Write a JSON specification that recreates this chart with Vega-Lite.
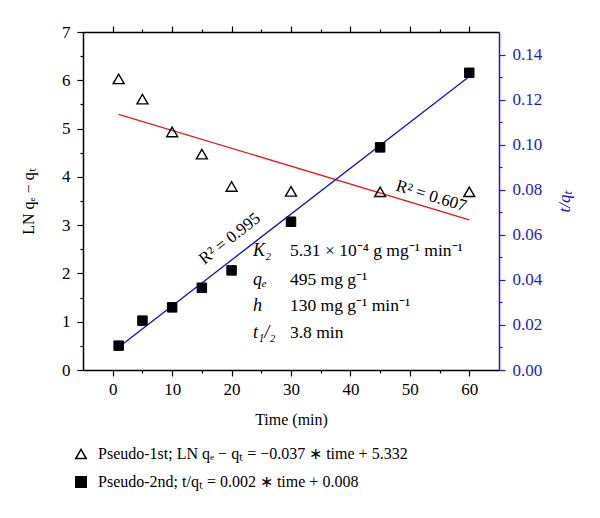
{
  "$schema": "https://vega.github.io/schema/vega-lite/v6.json",
  "width": 416,
  "height": 338,
  "autosize": {"type": "none"},
  "padding": {"left": 83, "top": 32, "right": 101, "bottom": 148},
  "background": "white",
  "config": {
    "font": "Liberation Serif",
    "view": {"stroke": null},
    "axis": {
      "labelFont": "Liberation Serif",
      "titleFont": "Liberation Serif",
      "labelFontSize": 17,
      "titleFontSize": 16,
      "titleFontWeight": "normal",
      "grid": false,
      "domainColor": "black",
      "domainWidth": 1.5,
      "tickColor": "black",
      "tickWidth": 1.2,
      "labelColor": "black",
      "titleColor": "black"
    },
    "legend": {
      "labelFont": "Liberation Serif",
      "labelFontSize": 16,
      "labelColor": "black",
      "labelLimit": 600
    }
  },
  "datasets": {
    "pts": [
      {"time": 1, "v": 6.03, "series": "Pseudo-1st; LN qₑ − qₜ = −0.037 ∗ time + 5.332"},
      {"time": 5, "v": 5.61, "series": "Pseudo-1st; LN qₑ − qₜ = −0.037 ∗ time + 5.332"},
      {"time": 10, "v": 4.93, "series": "Pseudo-1st; LN qₑ − qₜ = −0.037 ∗ time + 5.332"},
      {"time": 15, "v": 4.47, "series": "Pseudo-1st; LN qₑ − qₜ = −0.037 ∗ time + 5.332"},
      {"time": 20, "v": 3.8, "series": "Pseudo-1st; LN qₑ − qₜ = −0.037 ∗ time + 5.332"},
      {"time": 30, "v": 3.7, "series": "Pseudo-1st; LN qₑ − qₜ = −0.037 ∗ time + 5.332"},
      {"time": 45, "v": 3.69, "series": "Pseudo-1st; LN qₑ − qₜ = −0.037 ∗ time + 5.332"},
      {"time": 60, "v": 3.69, "series": "Pseudo-1st; LN qₑ − qₜ = −0.037 ∗ time + 5.332"},
      {"time": 1, "v": 0.0108, "series": "Pseudo-2nd; t/qₜ = 0.002 ∗ time + 0.008"},
      {"time": 5, "v": 0.0219, "series": "Pseudo-2nd; t/qₜ = 0.002 ∗ time + 0.008"},
      {"time": 10, "v": 0.0278, "series": "Pseudo-2nd; t/qₜ = 0.002 ∗ time + 0.008"},
      {"time": 15, "v": 0.0365, "series": "Pseudo-2nd; t/qₜ = 0.002 ∗ time + 0.008"},
      {"time": 20, "v": 0.0442, "series": "Pseudo-2nd; t/qₜ = 0.002 ∗ time + 0.008"},
      {"time": 30, "v": 0.0658, "series": "Pseudo-2nd; t/qₜ = 0.002 ∗ time + 0.008"},
      {"time": 45, "v": 0.0988, "series": "Pseudo-2nd; t/qₜ = 0.002 ∗ time + 0.008"},
      {"time": 60, "v": 0.1319, "series": "Pseudo-2nd; t/qₜ = 0.002 ∗ time + 0.008"}
    ],
    "fits": [
      {"time": 1, "v": 5.295, "fit": "first"},
      {"time": 60, "v": 3.11, "fit": "first"},
      {"time": 1, "v": 0.0101, "fit": "second"},
      {"time": 60, "v": 0.1303, "fit": "second"}
    ],
    "params": [
      {"time": 23.6, "v": 2.47, "sym": "K₂", "val": "5.31 × 10⁻⁴ g mg⁻¹ min⁻¹"},
      {"time": 23.6, "v": 1.86, "sym": "qₑ", "val": "495 mg g⁻¹"},
      {"time": 23.6, "v": 1.32, "sym": "h", "val": "130 mg g⁻¹ min⁻¹"},
      {"time": 23.6, "v": 0.77, "sym": "t₁/₂", "val": "3.8 min"}
    ],
    "r2a": [{"time": 19.7, "v": 2.72, "text": "R² = 0.995"}],
    "r2b": [{"time": 53.6, "v": 3.6, "text": "R² = 0.607"}]
  },
  "resolve": {"scale": {"y": "independent"}, "axis": {"x": "independent"}},
  "layer": [
    {
      "encoding": {
        "x": {
          "field": "time",
          "type": "quantitative",
          "scale": {"domain": [-5, 65], "nice": false, "zero": false},
          "axis": {
            "orient": "bottom",
            "title": "Time (min)",
            "values": [0, 5, 10, 15, 20, 25, 30, 35, 40, 45, 50, 55, 60],
            "labelExpr": "datum.value % 10 === 0 ? format(datum.value, 'd') : ''",
            "tickSize": {"condition": {"test": "datum.value % 10 === 0", "value": 6}, "value": 3},
            "labelPadding": 5,
            "titlePadding": 14
          }
        },
        "y": {
          "field": "v",
          "type": "quantitative",
          "scale": {"domain": [0, 7], "nice": false},
          "axis": {
            "orient": "left",
            "title": "LN qₑ − qₜ",
            "values": [0, 0.5, 1, 1.5, 2, 2.5, 3, 3.5, 4, 4.5, 5, 5.5, 6, 6.5, 7],
            "labelExpr": "datum.value % 1 === 0 ? format(datum.value, 'd') : ''",
            "tickSize": {"condition": {"test": "datum.value % 1 === 0", "value": 6}, "value": 3},
            "labelPadding": 7,
            "titlePadding": 25
          }
        }
      },
      "layer": [
        {
          "data": {"name": "fits"},
          "transform": [{"filter": "datum.fit === 'first'"}],
          "mark": {"type": "line", "color": "#e8191b", "strokeWidth": 1.3}
        },
        {
          "data": {"name": "pts"},
          "transform": [{"filter": "indexof(datum.series, 'Pseudo-1st') === 0"}],
          "mark": {"type": "point", "filled": true, "stroke": "black", "strokeWidth": 1.4, "size": 120, "opacity": 1},
          "encoding": {
            "shape": {
              "field": "series",
              "type": "nominal",
              "scale": {
                "domain": ["Pseudo-1st; LN qₑ − qₜ = −0.037 ∗ time + 5.332", "Pseudo-2nd; t/qₜ = 0.002 ∗ time + 0.008"],
                "range": ["triangle-up", "square"]
              },
              "legend": {
                "title": null,
                "orient": "none",
                "legendX": -10,
                "legendY": 414,
                "rowPadding": 11,
                "labelOffset": 9,
                "symbolSize": 110,
                "encode": {"symbols": {"update": {"stroke": {"value": "black"}, "strokeWidth": {"value": 1.4}}}}
              }
            },
            "fill": {
              "field": "series",
              "type": "nominal",
              "scale": {
                "domain": ["Pseudo-1st; LN qₑ − qₜ = −0.037 ∗ time + 5.332", "Pseudo-2nd; t/qₜ = 0.002 ∗ time + 0.008"],
                "range": ["transparent", "black"]
              },
              "legend": {
                "title": null,
                "orient": "none",
                "legendX": -10,
                "legendY": 414,
                "rowPadding": 11,
                "labelOffset": 9,
                "symbolSize": 110,
                "encode": {"symbols": {"update": {"stroke": {"value": "black"}, "strokeWidth": {"value": 1.4}}}}
              }
            }
          }
        },
        {
          "data": {"name": "r2a"},
          "mark": {"type": "text", "angle": 322, "fontSize": 17, "font": "Liberation Serif", "color": "black"},
          "encoding": {"text": {"field": "text"}}
        },
        {
          "data": {"name": "r2b"},
          "mark": {"type": "text", "angle": 17, "fontSize": 17, "font": "Liberation Serif", "color": "black"},
          "encoding": {"text": {"field": "text"}}
        },
        {
          "data": {"name": "params"},
          "mark": {"type": "text", "align": "left", "baseline": "middle", "fontSize": 18, "fontStyle": "italic", "font": "Liberation Serif", "color": "black"},
          "encoding": {"text": {"field": "sym"}}
        },
        {
          "data": {"name": "params"},
          "mark": {"type": "text", "align": "left", "baseline": "middle", "fontSize": 17.5, "font": "Liberation Serif", "color": "black", "dx": 37},
          "encoding": {"text": {"field": "val"}}
        }
      ]
    },
    {
      "encoding": {
        "x": {
          "field": "time",
          "type": "quantitative",
          "axis": {
            "orient": "top",
            "title": null,
            "labels": false,
            "values": [0, 5, 10, 15, 20, 25, 30, 35, 40, 45, 50, 55, 60],
            "tickSize": {"condition": {"test": "datum.value % 10 === 0", "value": 6}, "value": 3}
          }
        },
        "y": {
          "field": "v",
          "type": "quantitative",
          "scale": {"domain": [0, 0.15], "nice": false},
          "axis": {
            "orient": "right",
            "title": "t/qₜ",
            "titleFontStyle": "italic",
            "titleFontSize": 17,
            "titleAngle": 270,
            "titleColor": "#1a1ad0",
            "domainColor": "#1a1ad0",
            "tickColor": "#1a1ad0",
            "labelColor": "#1a1ad0",
            "values": [0, 0.01, 0.02, 0.03, 0.04, 0.05, 0.06, 0.07, 0.08, 0.09, 0.1, 0.11, 0.12, 0.13, 0.14],
            "labelExpr": "round(datum.value * 100) % 2 === 0 ? format(datum.value, '.2f') : ''",
            "tickSize": {"condition": {"test": "round(datum.value * 100) % 2 === 0", "value": 6}, "value": 3},
            "labelPadding": 7,
            "titlePadding": 32
          }
        }
      },
      "layer": [
        {
          "data": {"name": "fits"},
          "transform": [{"filter": "datum.fit === 'second'"}],
          "mark": {"type": "line", "color": "#1010c8", "strokeWidth": 1.3}
        },
        {
          "data": {"name": "pts"},
          "transform": [{"filter": "indexof(datum.series, 'Pseudo-2nd') === 0"}],
          "mark": {"type": "point", "filled": true, "stroke": "black", "strokeWidth": 1, "size": 90, "opacity": 1},
          "encoding": {
            "shape": {"field": "series", "type": "nominal"},
            "fill": {"field": "series", "type": "nominal"}
          }
        }
      ]
    }
  ]
}
